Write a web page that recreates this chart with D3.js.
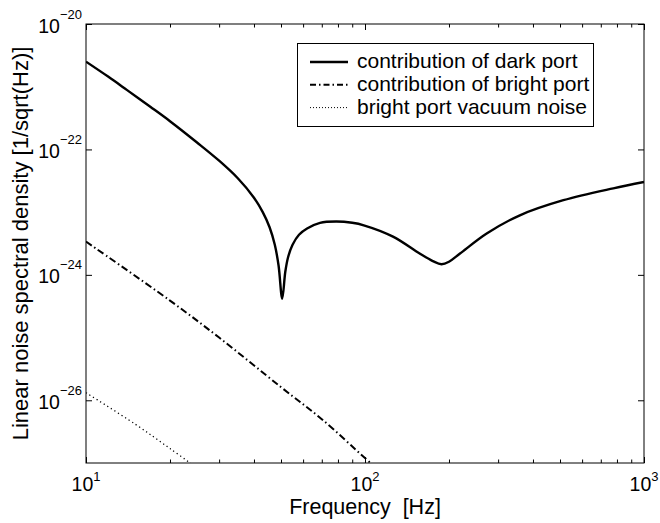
<!DOCTYPE html>
<html>
<head>
<meta charset="utf-8">
<script src="https://cdn.jsdelivr.net/npm/d3@7"></script>
<style>
  body { margin: 0; background: #fff; }
  svg { display: block; font-family: "Liberation Sans", Arial, sans-serif; }
  .axis path { stroke: none; }
  .axis line { stroke: #000; stroke-width: 1; }
</style>
</head>
<body>
<div class="charts-container"></div>
<script>
// frequencies [Hz] and noise values [1/sqrt(Hz)]
const darkFreq = [10, 12, 14, 17, 20, 25, 30, 35, 40, 43, 45.5, 47.5, 49, 50.5, 51.8, 53, 55, 58, 62, 69, 79, 90, 99, 126, 157, 175, 188, 200, 219, 273, 359, 514, 776, 1000];
const darkPort = [2.51e-21, 1.45e-21, 8.91e-22, 4.79e-22, 2.82e-22, 1.29e-22, 6.61e-23, 3.47e-23, 1.70e-23, 1.00e-23, 5.75e-24, 3.02e-24, 1.41e-24, 4.17e-25, 1.12e-24, 1.91e-24, 3.02e-24, 4.37e-24, 5.50e-24, 6.76e-24, 7.08e-24, 6.76e-24, 6.17e-24, 4.07e-24, 2.19e-24, 1.66e-24, 1.48e-24, 1.62e-24, 2.19e-24, 4.57e-24, 8.91e-24, 1.55e-23, 2.40e-23, 3.02e-23];

const brightFreq = [10, 20, 30, 50, 70, 100, 110];
const brightPort = [3.39e-24, 3.89e-25, 1.0e-25, 1.62e-26, 5.0e-27, 1.20e-27, 8.3e-28];

const vacuumFreq = [10, 15, 20, 25];
const vacuumNoise = [1.32e-26, 4.17e-27, 1.70e-27, 8.32e-28];

const xMajor = [10, 100, 1000];
const xMinor = [20, 30, 40, 50, 60, 70, 80, 90, 200, 300, 400, 500, 600, 700, 800, 900];
const yMajor = [1e-20, 1e-22, 1e-24, 1e-26];

const legendLabels = ["contribution of dark port", "contribution of bright port", "bright port vacuum noise"];

const width = 660, height = 523;
const margin = {top: 24, right: 16, bottom: 60, left: 86};

const svg = d3.select(".charts-container").append("svg")
    .attr("width", width)
    .attr("height", height);

const x = d3.scaleLog().domain([10, 1000]).range([margin.left, width - margin.right]);
const y = d3.scaleLog().domain([1e-27, 1e-20]).range([height - margin.bottom, margin.top]);

const x0 = margin.left, x1 = width - margin.right;
const y0 = margin.top, y1 = height - margin.bottom;

svg.append("defs").append("clipPath").attr("id", "plotclip")
    .append("rect").attr("x", x0).attr("y", y0).attr("width", x1 - x0).attr("height", y1 - y0);

// ticks pointing inwards on all four sides
const tickAxis = (gen, values, size, tx, ty) => {
    svg.append("g").attr("class", "axis")
        .attr("transform", `translate(${tx},${ty})`)
        .call(gen.tickValues(values).tickSize(size).tickFormat(""));
};
tickAxis(d3.axisBottom(x), xMajor, -6, 0, y1);
tickAxis(d3.axisBottom(x), xMinor, -3.5, 0, y1);
tickAxis(d3.axisTop(x), xMajor, -6, 0, y0);
tickAxis(d3.axisTop(x), xMinor, -3.5, 0, y0);
tickAxis(d3.axisLeft(y), yMajor, -6, x0, 0);
tickAxis(d3.axisRight(y), yMajor, -6, x1, 0);

// tick labels 10^n
xMajor.forEach(v => {
    const t = svg.append("text")
        .attr("x", x(v))
        .attr("y", y1 + 28)
        .attr("text-anchor", "middle")
        .style("font-size", "19.5px");
    t.append("tspan").text("10");
    t.append("tspan").attr("dy", -10).style("font-size", "13px").text(Math.round(Math.log10(v)));
});
yMajor.forEach(v => {
    const t = svg.append("text")
        .attr("x", x0 - 4)
        .attr("y", y(v) + 8.5)
        .attr("text-anchor", "end")
        .style("font-size", "19.5px");
    t.append("tspan").text("10");
    t.append("tspan").attr("dy", -14).style("font-size", "13px").text("\u2212" + Math.abs(Math.round(Math.log10(v))));
});

// axis titles
svg.append("text")
    .attr("x", (x0 + x1) / 2)
    .attr("y", 514)
    .attr("text-anchor", "middle")
    .style("font-size", "21.5px")
    .attr("xml:space", "preserve")
    .text("Frequency  [Hz]");
svg.append("text")
    .attr("transform", `translate(28,${(y0 + y1) / 2}) rotate(-90)`)
    .attr("text-anchor", "middle")
    .style("font-size", "22px")
    .text("Linear noise spectral density [1/sqrt(Hz)]");

// curves
const styles = [
    {dash: null, w: 2.4},
    {dash: "7,3,1.5,3", w: 2},
    {dash: "1.2,3", w: 1.3}
];
const series = [
    [darkFreq, darkPort],
    [brightFreq, brightPort],
    [vacuumFreq, vacuumNoise]
];
const line = d3.line()
    .x(d => x(d[0]))
    .y(d => y(d[1]))
    .curve(d3.curveCatmullRom.alpha(0.5));

const plot = svg.append("g").attr("clip-path", "url(#plotclip)");
series.forEach((s, i) => {
    plot.append("path")
        .datum(d3.zip(s[0], s[1]))
        .attr("d", line)
        .attr("fill", "none")
        .attr("stroke", "#000")
        .attr("stroke-width", styles[i].w)
        .attr("stroke-linejoin", "round")
        .attr("stroke-dasharray", styles[i].dash);
});

// frame
svg.append("rect")
    .attr("x", x0).attr("y", y0)
    .attr("width", x1 - x0).attr("height", y1 - y0)
    .attr("fill", "none").attr("stroke", "#000").attr("stroke-width", 1);

// legend
const legend = svg.append("g").attr("class", "legend");
legend.append("rect")
    .attr("x", 297.5).attr("y", 43.5)
    .attr("width", 296).attr("height", 83)
    .attr("fill", "#fff").attr("stroke", "#000").attr("stroke-width", 1);
legendLabels.forEach((label, i) => {
    const ly = 62 + i * 22.8;
    legend.append("line")
        .attr("x1", 310).attr("x2", 348)
        .attr("y1", ly).attr("y2", ly)
        .attr("stroke", "#000")
        .attr("stroke-width", i === 2 ? 1 : styles[i].w)
        .attr("stroke-dasharray", i === 1 ? "6,3,1.5,3" : (i === 2 ? "1,2" : null));
    legend.append("text")
        .attr("x", 357).attr("y", ly + 6)
        .style("font-size", "21px")
        .text(label);
});
</script>
</body>
</html>
